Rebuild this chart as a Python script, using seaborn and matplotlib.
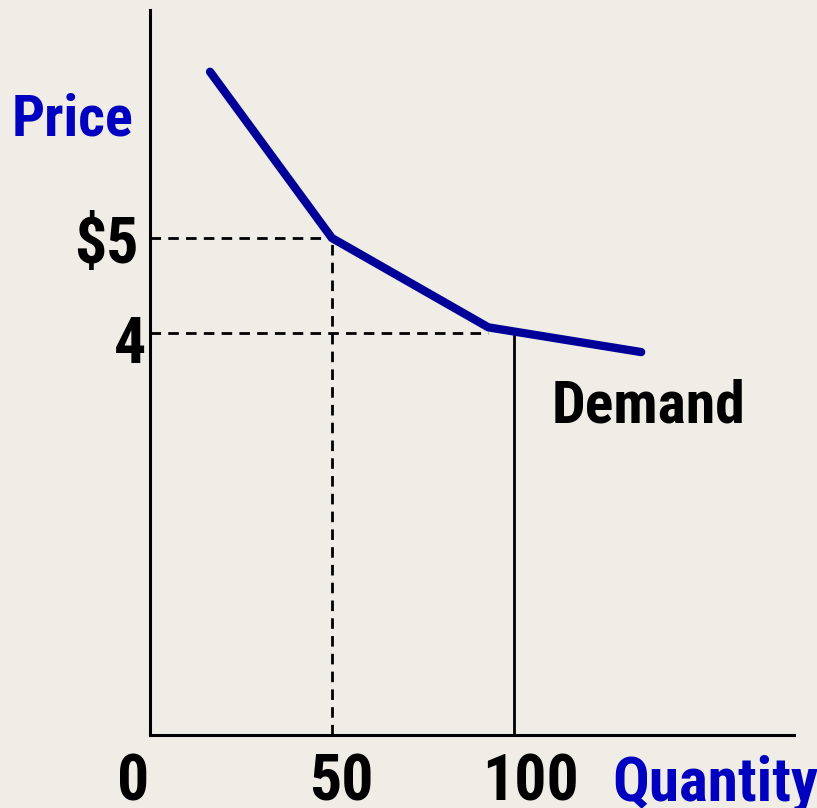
import matplotlib
matplotlib.use('Agg')
import matplotlib.pyplot as plt
import seaborn as sns
import pandas as pd

# Demand curve (quantity, price)
demand_qty = [16.5, 50, 93, 135]
demand_price = [6.75, 5.0, 4.06, 3.8]

# Reference levels
ref_qty = [50, 100]
ref_price = [5, 4]
price_labels = ['$5', '4']
qty_labels = ['0', '50', '100']

bg = '#f0ece6'
line_blue = '#000099'
label_blue = '#0000c0'

sns.set_style('white')
# condensed bold face, close to the narrow font in the original
plt.rcParams['font.family'] = ['Roboto Condensed', 'Asap Condensed', 'Liberation Sans', 'DejaVu Sans']

fig = plt.figure(figsize=(8.17, 8.08), dpi=100, facecolor=bg)
ax = fig.add_axes([150 / 817, 73 / 808, 644 / 817, 725 / 808])
ax.set_facecolor(bg)
ax.set_xlim(0, 177)
ax.set_ylim(-0.23, 7.4)

df = pd.DataFrame({'Quantity': demand_qty, 'Price': demand_price})
sns.lineplot(data=df, x='Quantity', y='Price', ax=ax, color=line_blue,
             linewidth=6, solid_capstyle='round', solid_joinstyle='round',
             sort=False, zorder=3)

# Dashed guide lines
dash = (0, (3.8, 2.6))
ax.plot([0, ref_qty[0]], [ref_price[0], ref_price[0]], color='black', lw=2, ls=dash)
ax.plot([ref_qty[0], ref_qty[0]], [-0.23, ref_price[0]], color='black', lw=2, ls=dash)
ax.plot([0, 93], [ref_price[1], ref_price[1]], color='black', lw=2, ls=dash)
# Solid vertical line at 100
ax.plot([ref_qty[1], ref_qty[1]], [-0.23, 4.0], color='black', lw=2)

# Axes
sns.despine(ax=ax, top=True, right=True)
for s in ['left', 'bottom']:
    ax.spines[s].set_color('black')
    ax.spines[s].set_linewidth(2.2)
ax.set_xticks([])
ax.set_yticks([])
ax.set_xlabel('')
ax.set_ylabel('')

# Tick labels as text
fs = 46
qty_label_x = [-4.7, 52.5, 104.7]
for xq, lab in zip(qty_label_x, qty_labels):
    ax.text(xq, -0.92, lab, ha='center', va='baseline', fontsize=fs,
            fontweight='bold', color='black', clip_on=False)
ax.text(-3, 4.74, price_labels[0], ha='right', va='baseline', fontsize=fs,
        fontweight='bold', color='black', clip_on=False)
ax.text(-1.1, 3.69, price_labels[1], ha='right', va='baseline', fontsize=fs,
        fontweight='bold', color='black', clip_on=False)

ax.text(127, -0.92, 'Quantity', ha='left', va='baseline', fontsize=44,
        fontweight='bold', color=label_blue, clip_on=False)
ax.text(-37.9, 6.08, 'Price', ha='left', va='baseline', fontsize=42,
        fontweight='bold', color=label_blue, clip_on=False)
ax.text(110.4, 3.06, 'Demand', ha='left', va='baseline', fontsize=43,
        fontweight='bold', color='black', clip_on=False)

fig.savefig('out.png', dpi=100, facecolor=bg)
